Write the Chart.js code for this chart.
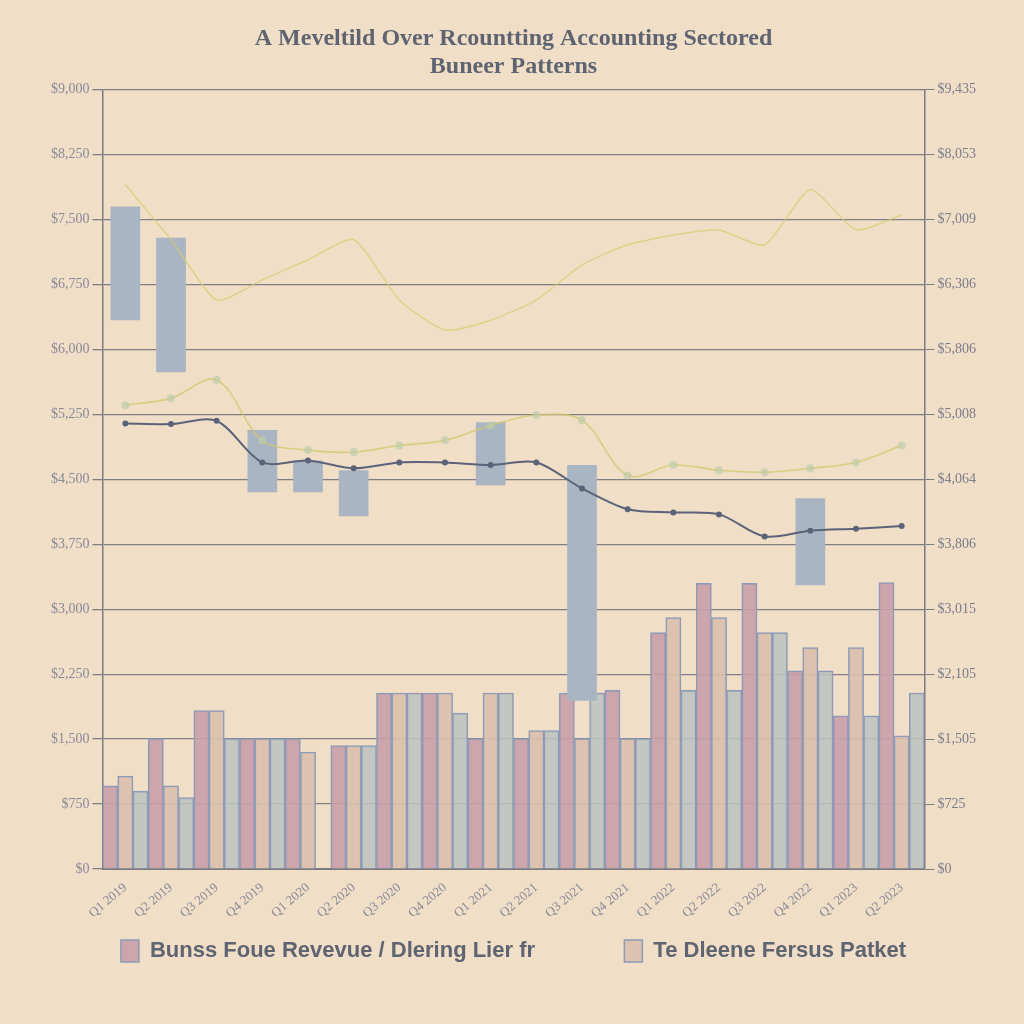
<!DOCTYPE html>
<html>
<head>
<meta charset="utf-8">
<script src="https://cdn.jsdelivr.net/npm/chart.js@4"></script>
<style>
  html, body { margin: 0; padding: 0; background: #f1dec7; }
  #wrap { width: 1024px; height: 1024px; }
</style>
</head>
<body>
<div id="wrap"><canvas id="myChart" width="1024" height="1024"></canvas></div>
<script>
var categories = ["Q1 2019", "Q2 2019", "Q3 2019", "Q4 2019", "Q1 2020", "Q2 2020", "Q3 2020", "Q4 2020", "Q1 2021",
  "Q2 2021", "Q3 2021", "Q4 2021", "Q1 2022", "Q2 2022", "Q3 2022", "Q4 2022", "Q1 2023", "Q2 2023"];

// bars along the bottom
var revenue = [12.8, 20.1, 24.4, 20.1, 20.1, 19.0, 27.1, 27.1, 20.1, 20.1, 27.1, 27.5, 36.4, 44.0, 44.0, 30.5, 23.6, 44.1];
var expense = [14.3, 12.8, 24.4, 20.1, 18.0, 19.0, 27.1, 27.1, 27.1, 21.3, 20.1, 20.1, 38.7, 38.7, 36.4, 34.1, 34.1, 20.5];
var other   = [12.0, 11.0, 20.1, 20.1, 0,    19.0, 27.1, 24.0, 27.1, 21.3, 27.1, 20.1, 27.5, 27.5, 36.4, 30.5, 23.6, 27.1];

// floating ranges in the upper part
var ranges = [[84.5, 102.0], [76.5, 97.2], null, [58.0, 67.6], [58.0, 62.9], [54.3, 61.4], null, null, [59.1, 68.8],
  null, [25.9, 62.2], null, null, null, null, [43.7, 57.1], null, null];

// lines
var darkLine  = [68.6, 68.5, 69.0, 62.6, 62.9, 61.7, 62.6, 62.6, 62.2, 62.6, 58.6, 55.4, 54.9, 54.6, 51.2, 52.1, 52.4, 52.8];
var lowYellow = [71.4, 72.5, 75.3, 66.0, 64.5, 64.2, 65.2, 66.0, 68.3, 69.9, 69.1, 60.6, 62.2, 61.4, 61.1, 61.7, 62.6, 65.2];
var highYellow = [105.4, 96.9, 87.6, 90.7, 93.8, 96.9, 87.6, 83.0, 84.5, 87.6, 93.0, 96.1, 97.6, 98.4, 96.1, 104.6, 98.4, 100.7];

var leftTicks = ["$0", "$750", "$1,500", "$2,250", "$3,000", "$3,750", "$4,500", "$5,250", "$6,000", "$6,750", "$7,500", "$8,250", "$9,000"];
var rightTicks = ["$0", "$725", "$1,505", "$2,105", "$3,015", "$3,806", "$4,064", "$5,008", "$5,806", "$6,306", "$7,009", "$8,053", "$9,435"];

Chart.defaults.font.family = "'Liberation Serif', 'DejaVu Serif', serif";
Chart.defaults.color = "#6e7080";

new Chart("myChart", {
  type: "bar",
  data: {
    labels: categories,
    datasets: [
      { type: "line", label: "Operating", data: darkLine, borderColor: "#5b6379", borderWidth: 2,
        pointRadius: 2, pointBackgroundColor: "#5b6379", tension: 0.3, yAxisID: "y", order: 0 },
      { type: "line", label: "Trend", data: lowYellow, borderColor: "rgba(210,200,110,0.8)", borderWidth: 1.6,
        pointRadius: 4, pointBackgroundColor: "rgba(190,205,170,0.7)", pointBorderWidth: 0, tension: 0.35, yAxisID: "y", order: 0 },
      { type: "line", label: "Outlook", data: highYellow, borderColor: "rgba(215,205,110,0.7)", borderWidth: 1.5,
        pointRadius: 0, tension: 0.2, yAxisID: "y", order: 0 },
      { label: "Range", data: ranges, backgroundColor: "#a9b5c2", borderWidth: 0, grouped: false,
        barPercentage: 0.65, categoryPercentage: 1, yAxisID: "y", order: 1 },
      { label: "Bunss Foue Revevue / Dlering Lier fr", data: revenue, backgroundColor: "rgba(200,160,168,0.9)",
        borderColor: "#8d9bb8", borderWidth: 1.5, barPercentage: 1, categoryPercentage: 1, yAxisID: "y", order: 2 },
      { label: "Te Dleene Fersus Patket", data: expense, backgroundColor: "rgba(218,192,172,0.9)",
        borderColor: "#8d9bb8", borderWidth: 1.5, barPercentage: 1, categoryPercentage: 1, yAxisID: "y", order: 2 },
      { label: "Other", data: other, backgroundColor: "rgba(188,195,192,0.85)",
        borderColor: "#8d9bb8", borderWidth: 1.5, barPercentage: 1, categoryPercentage: 1, yAxisID: "y", order: 2 }
    ]
  },
  options: {
    responsive: false,
    animation: false,
    layout: { padding: { left: 48, right: 45, top: 14, bottom: 52 } },
    plugins: {
      title: {
        display: true,
        text: ["A Meveltild Over Rcountting Accounting Sectored", "Buneer Patterns"],
        font: { size: 24, weight: "bold" },
        color: "#5f6472",
        padding: { top: 10, bottom: 8 }
      },
      legend: {
        position: "bottom",
        labels: {
          filter: function (item) { return item.datasetIndex === 4 || item.datasetIndex === 5; },
          generateLabels: function (chart) {
            var items = Chart.defaults.plugins.legend.labels.generateLabels(chart);
            items.forEach(function (it) { if (it.datasetIndex === 4) it.text = it.text + "            "; });
            return items;
          },
          boxWidth: 18, boxHeight: 22, padding: 16,
          font: { size: 22, family: "'Liberation Sans Narrow', 'Liberation Sans', sans-serif", weight: "bold" },
          color: "#5f6472"
        }
      },
      tooltip: { enabled: false }
    },
    scales: {
      x: {
        grid: { display: false },
        border: { color: "#7a7a80", width: 2 },
        ticks: { maxRotation: 40, minRotation: 40, font: { size: 13 }, color: "#8a8a96" }
      },
      y: {
        position: "left",
        min: 0, max: 120,
        ticks: { stepSize: 10, font: { size: 14 }, color: "#8a8a96",
          callback: function (v, i) { return leftTicks[i]; } },
        grid: { color: "#807e82", lineWidth: 1.3, tickLength: 10 },
        border: { color: "#7a7a80", width: 1.5 }
      },
      y2: {
        position: "right",
        min: 0, max: 120,
        ticks: { stepSize: 10, font: { size: 14 }, color: "#7c7d8a",
          callback: function (v, i) { return rightTicks[i]; } },
        grid: { drawOnChartArea: false, color: "#7d7b7e", tickLength: 10 },
        border: { color: "#7a7a80", width: 1.5 }
      }
    }
  }
});
</script>
</body>
</html>
